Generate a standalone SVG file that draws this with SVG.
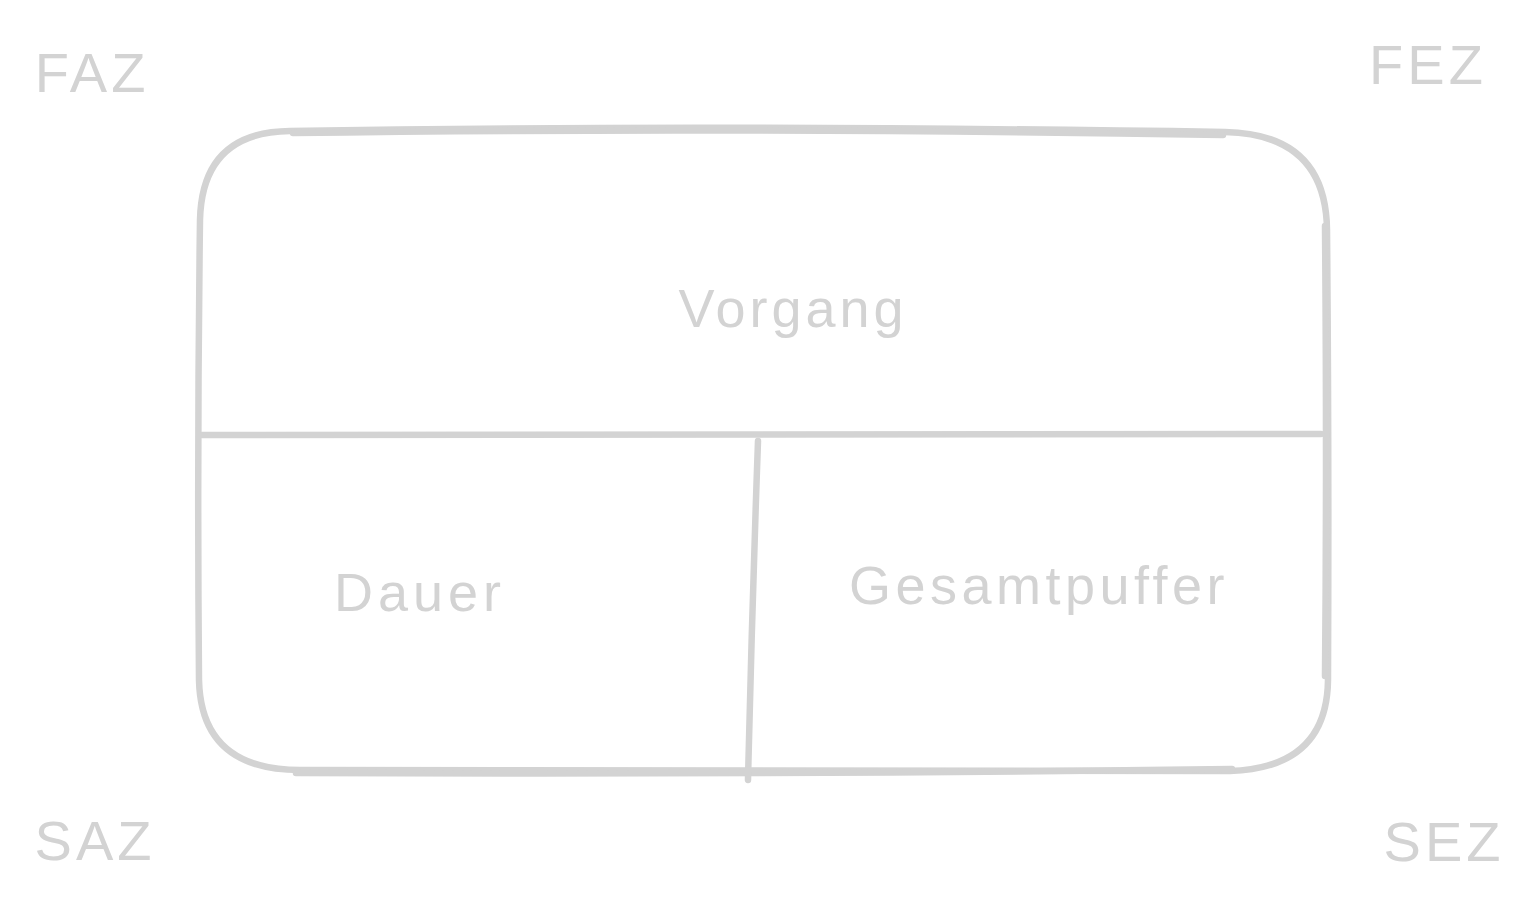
<svg xmlns="http://www.w3.org/2000/svg" width="1539" height="912" viewBox="0 0 1539 912">
<style>
.s{fill:none;stroke:#d3d3d3;stroke-width:6.5;stroke-linecap:round;stroke-linejoin:round}
.t{font-family:"Liberation Sans","DejaVu Sans",sans-serif;fill:#d3d3d3;font-size:54px}
.c{font-family:"Liberation Sans","DejaVu Sans",sans-serif;fill:#d3d3d3;font-size:56px;letter-spacing:4px}
</style>
<rect width="1539" height="912" fill="#ffffff"/>
<g id="box">
<path class="s" d="M290 131 Q700 124 1225 132 Q1326 134 1327 230 Q1329 450 1328 680 Q1327 768 1230 771 Q760 772 300 770 Q201 770 199 680 Q197 450 200 220 Q202 132 290 131 Z"/>
<path class="s" d="M293 133 Q720 127 1223 135 M1325 226 Q1327 460 1325 676 M296 773 Q780 775 1232 769"/>
</g>
<g id="connectors">
<path class="s" d="M202 435 Q760 437 1321 434"/>
<path class="s" d="M758 441 Q752 610 748 780"/>
</g>
<g id="vorgang"><text class="t" x="793" y="327" text-anchor="middle" letter-spacing="4">Vorgang</text></g>
<g id="dauer"><text class="t" x="420" y="611" text-anchor="middle" letter-spacing="5">Dauer</text></g>
<g id="gesamtpuffer"><text class="t" x="1039" y="604" text-anchor="middle" letter-spacing="4.5">Gesamtpuffer</text></g>
<g id="faz"><text class="c" x="92" y="92" text-anchor="middle">FAZ</text></g>
<g id="fez"><text class="c" x="1428" y="84" text-anchor="middle">FEZ</text></g>
<g id="saz"><text class="c" x="95" y="860" text-anchor="middle">SAZ</text></g>
<g id="sez"><text class="c" x="1444" y="861" text-anchor="middle">SEZ</text></g>
</svg>
